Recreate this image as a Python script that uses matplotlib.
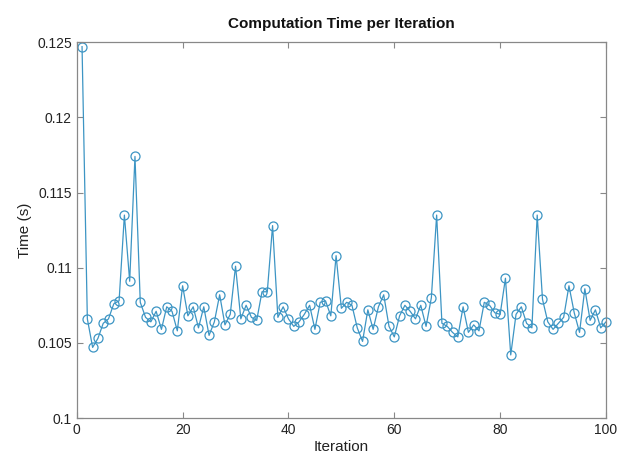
import matplotlib
matplotlib.use("Agg")
import matplotlib.pyplot as plt
import numpy as np

plt.rcParams['font.family'] = ['Liberation Sans', 'DejaVu Sans']

# computation time (s) for each iteration
iterations = np.arange(1, 101)
times = [
    0.1247, 0.1066, 0.1047, 0.1053, 0.1063, 0.1066, 0.1076, 0.1078, 0.1135, 0.1091,
    0.1174, 0.1077, 0.1067, 0.1064, 0.1071, 0.1059, 0.1074, 0.1071, 0.1058, 0.1088,
    0.1068, 0.1074, 0.1060, 0.1074, 0.1055, 0.1064, 0.1082, 0.1062, 0.1069, 0.1101,
    0.1066, 0.1075, 0.1067, 0.1065, 0.1084, 0.1084, 0.1128, 0.1067, 0.1074, 0.1066,
    0.1061, 0.1064, 0.1069, 0.1075, 0.1059, 0.1077, 0.1078, 0.1068, 0.1108, 0.1073,
    0.1077, 0.1075, 0.1060, 0.1051, 0.1072, 0.1059, 0.1074, 0.1082, 0.1061, 0.1054,
    0.1068, 0.1075, 0.1071, 0.1066, 0.1075, 0.1061, 0.1080, 0.1135, 0.1063, 0.1061,
    0.1057, 0.1054, 0.1074, 0.1057, 0.1062, 0.1058, 0.1077, 0.1075, 0.1070, 0.1069,
    0.1093, 0.1042, 0.1069, 0.1074, 0.1063, 0.1060, 0.1135, 0.1079, 0.1064, 0.1059,
    0.1063, 0.1067, 0.1088, 0.1070, 0.1057, 0.1086, 0.1065, 0.1072, 0.1060, 0.1064,
]
x_ticks = [0, 20, 40, 60, 80, 100]
y_ticks = [0.1, 0.105, 0.11, 0.115, 0.12, 0.125]
y_tick_labels = ["0.1", "0.105", "0.11", "0.115", "0.12", "0.125"]

fig = plt.figure(figsize=(6.19, 4.63), dpi=100)
ax = fig.add_axes([0.124, 0.097, 0.855, 0.812])

line_color = "#3d95c4"
ax.plot(iterations, times, "-o", color=line_color, linewidth=0.9,
        markersize=6.5, markerfacecolor="none", markeredgecolor=line_color,
        markeredgewidth=0.9, clip_on=False)

ax.set_xlim(0, 100)
ax.set_ylim(0.1, 0.125)
ax.set_xticks(x_ticks)
ax.set_yticks(y_ticks)
ax.set_yticklabels(y_tick_labels)

axis_gray = "#555555"
for spine in ax.spines.values():
    spine.set_color("#888888")
    spine.set_linewidth(0.9)
ax.tick_params(direction="in", length=4, width=0.8, color="#888888",
               labelcolor="#222222", labelsize=10, top=True, right=True,
               labeltop=False, labelright=False)

ax.set_xlabel("Iteration", fontsize=11, color="#222222", labelpad=2)
ax.set_ylabel("Time (s)", fontsize=11, color="#222222", labelpad=4)
ax.set_title("Computation Time per Iteration", fontsize=11, fontweight="bold",
             color="#111111", pad=10)

fig.savefig("out.png", dpi=100)
